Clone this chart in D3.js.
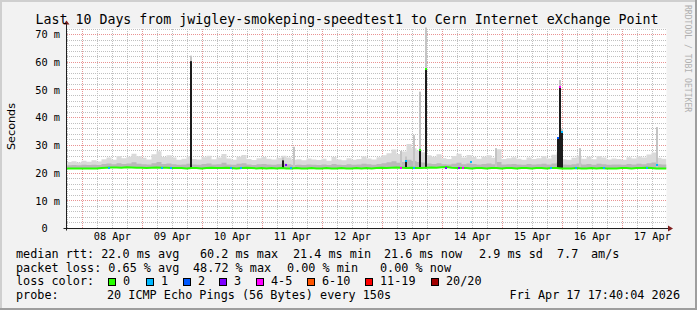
<!DOCTYPE html>
<html><head><meta charset="utf-8">
<script src="https://cdn.jsdelivr.net/npm/d3@7"></script>
<style>html,body{margin:0;padding:0;background:#f2f2f2} svg{display:block}</style>
</head><body><svg id="c" width="697" height="310"></svg>
<script>
// ---------------- data ----------------
const titleText = "Last 10 Days from jwigley-smokeping-speedtest1 to Cern Internet eXchange Point";
const startTime = "2026-04-07T17:40:00Z";
const endTime = "2026-04-17T17:40:00Z";
const stepHours = 2;
const medianRtt = [
21.7,21.7,21.7,21.7,21.7,21.7,21.7,21.8,21.9,22.0,
22.0,21.9,22.1,22.0,21.9,21.9,21.8,21.9,22.0,21.9,
21.9,21.8,21.8,21.8,21.7,21.8,21.8,21.7,21.8,21.9,
21.8,21.8,21.9,21.8,21.7,21.8,21.9,21.8,21.7,21.8,
21.7,21.8,21.7,21.8,21.7,21.7,21.8,21.7,21.7,21.8,
21.7,21.7,21.8,21.7,21.7,21.8,21.7,21.7,21.8,21.7,
21.8,21.7,21.8,21.9,21.8,21.9,22.0,21.9,21.8,21.9,
21.8,21.8,21.9,22.0,21.9,22.1,22.2,21.9,21.8,21.8,
21.8,21.7,21.8,21.8,21.7,21.8,21.8,21.7,21.8,21.8,
21.7,21.8,21.8,21.7,21.8,21.8,21.7,21.8,21.8,21.7,
21.7,21.7,21.8,21.7,21.7,21.8,21.7,21.8,21.7,21.7,
21.7,21.8,21.8,21.7,21.8,21.8,21.9,21.8,21.7,21.7];
const smokeMid = [
22.8,22.9,22.8,23.0,22.9,23.0,22.9,23.3,23.5,23.2,
23.6,23.3,23.5,23.9,23.4,23.2,23.1,23.6,24.0,23.3,
23.5,23.2,23.0,23.1,23.4,23.1,23.0,23.3,23.5,23.1,
23.2,23.7,23.1,23.0,23.4,23.6,23.1,22.9,23.2,23.3,
23.1,23.0,23.2,23.5,23.2,22.9,23.0,22.9,23.1,23.0,
22.9,23.1,22.9,23.3,23.0,22.9,23.2,23.0,23.1,23.4,
23.2,23.0,23.3,23.6,23.9,24.3,23.7,24.0,24.8,24.4,
24.0,23.8,23.5,23.3,23.6,23.2,23.1,23.4,23.7,23.2,
23.5,23.3,23.1,23.3,23.5,23.2,24.0,23.1,23.2,23.3,
23.1,23.0,23.3,23.1,23.2,23.4,23.1,23.5,23.8,23.1,
23.0,23.2,23.5,23.1,23.3,23.0,23.4,23.2,23.0,23.1,
23.1,23.0,23.3,23.1,23.4,23.2,23.6,23.8,23.2,23.1];
const smokeMax = [
24.0,24.3,23.8,24.5,24.1,24.6,24.2,25.0,25.6,24.8,
26.2,25.4,25.9,27.0,26.1,25.5,24.9,26.8,27.9,25.8,
26.4,25.6,24.8,25.2,26.0,25.1,24.9,25.7,26.3,25.0,
25.6,26.9,25.3,24.8,25.9,26.5,25.1,24.7,25.4,25.8,
25.2,24.9,25.5,26.3,25.6,24.8,25.0,24.6,25.3,24.9,
24.7,25.2,24.5,25.8,24.9,24.6,25.4,24.8,25.1,26.0,
25.3,24.9,25.7,26.4,27.2,28.5,26.9,27.8,30.5,29.0,
28.2,27.5,26.4,25.9,26.8,25.4,25.1,26.2,27.0,25.6,
26.5,25.8,25.2,25.9,26.4,25.5,28.6,25.1,25.4,25.7,
25.2,24.8,25.6,25.1,25.4,26.1,25.3,26.6,27.5,25.0,
24.8,25.5,26.3,25.2,25.9,25.0,26.2,25.6,24.9,25.3,
25.1,24.8,25.7,25.3,26.0,25.6,26.7,27.4,25.5,25.2];
// short spikes: time, top of dense (dark) smoke, top of light smoke
const spikeTimes = ["2026-04-09T19:29Z","2026-04-11T08:05Z","2026-04-11T12:44Z","2026-04-13T07:17Z","2026-04-13T09:33Z","2026-04-13T12:29Z","2026-04-13T14:53Z","2026-04-13T17:17Z","2026-04-14T21:22Z","2026-04-15T22:12Z","2026-04-15T22:52Z","2026-04-15T23:41Z","2026-04-16T07:12Z","2026-04-17T13:41Z"];
const spikeDark  = [60.4, 24.6, 0,    0,    24.5, 0,    28.3, 57.4, 0,    32.6, 51.2, 35.0, 0,    0];
const spikeLight = [62.4, 25.6, 29.5, 28.0, 26.0, 33.7, 49.4, 75.0, 29.0, 33.0, 53.6, 36.0, 29.0, 36.6];
// loss-coloured median points
const lossTimes = ["2026-04-08T10:29Z","2026-04-09T07:41Z","2026-04-09T11:17Z","2026-04-10T11:17Z","2026-04-10T15:17Z","2026-04-11T09:17Z","2026-04-11T11:17Z","2026-04-13T07:17Z","2026-04-13T09:33Z","2026-04-13T12:29Z","2026-04-13T14:53Z","2026-04-13T17:17Z","2026-04-14T01:29Z","2026-04-14T06:29Z","2026-04-14T08:05Z","2026-04-14T11:17Z","2026-04-15T19:17Z","2026-04-15T22:12Z","2026-04-15T22:52Z","2026-04-15T23:41Z","2026-04-16T05:17Z","2026-04-16T16:29Z","2026-04-17T09:58Z","2026-04-17T13:41Z"];
const lossValues = [21.8,21.8,21.9,21.8,21.8,22.9,21.8,21.7,24.5,21.9,28.3,57.4,21.7,21.7,21.7,24.1,21.7,32.6,51.2,35.0,21.7,21.8,21.7,23.0];
const lossCounts = [1,1,1,1,1,3,1,5,1,1,0,0,3,3,5,1,1,2,5,1,1,1,1,1];
const yTicks = [0,10,20,30,40,50,60,70];
const yMax = 72.2;
const lossLabels = ["0","1","2","3","4-5","6-10","11-19","20/20"];
const lossBins = [0,1,2,3,5,10,19,20];
const lossColors = ["#26ff00","#00b8ff","#0059ff","#7e00ff","#ff00ff","#ff5500","#ff0000","#a10000"];
const rttStats = ["median rtt:  22.0 ms avg","60.2 ms max","21.4 ms min","21.6 ms now","2.9 ms sd","7.7","am/s"];
const lossStats = ["packet loss: 0.65 % avg","48.72 % max","0.00 % min","0.00 % now"];
const probeText = ["probe:","20 ICMP Echo Pings (56 Bytes) every 150s"];
const dateText = "Fri Apr 17 17:40:04 2026";
const yAxisTitle = "Seconds";
const watermark = "RRDTOOL / TOBI OETIKER";

// ---------------- layout ----------------
const svg = d3.select("#c");
const W = 697, H = 310;
const L = 66.5, R = 666.5, T = 28.5, B = 228.5;
const mono = "'DejaVu Sans Mono', monospace";

svg.append("rect").attr("width",W).attr("height",H).attr("fill","#f2f2f2");
// 3D frame
svg.append("path").attr("d",`M1,${H} V1 H${W}`).attr("stroke","#cfcfcf").attr("stroke-width",2).attr("fill","none");
svg.append("path").attr("d",`M${W-1},0 V${H-1} H0`).attr("stroke","#9e9e9e").attr("stroke-width",2).attr("fill","none");
svg.append("rect").attr("x",L).attr("y",T).attr("width",R-L).attr("height",B-T).attr("fill","#fff");

const x = d3.scaleUtc().domain([new Date(startTime), new Date(endTime)]).range([L, R]);
const y = d3.scaleLinear().domain([0, yMax]).range([B, T]);

svg.append("defs").append("clipPath").attr("id","clip").append("rect")
  .attr("x",L).attr("y",T-1).attr("width",R-L).attr("height",B-T+1);

// grid (dotted, built from 1px dots)
const minorCol = "#c0c0c0", majorCol = "#e99393";
const grid = svg.append("g").attr("shape-rendering","crispEdges");
const fl = v => Math.floor(v);
function hDots(yy){ let s=""; for(let xx=fl(L)+1; xx<R; xx+=2) s+=`M${xx},${yy}h1v1h-1z`; return s; }
function vDots(xx){ let s=""; for(let yy=fl(T)+1; yy<B; yy+=2) s+=`M${xx},${yy}h1v1h-1z`; return s; }
const minorY = d3.range(0, yMax, 2).filter(v => v % 10 !== 0);
const hours6 = d3.utcHour.every(6).range(x.domain()[0], x.domain()[1]).filter(d => d.getUTCHours() !== 0);
const days = d3.utcDay.range(x.domain()[0], x.domain()[1]);
grid.selectAll("path.hy").data(minorY).join("path").attr("class","hy")
  .attr("d", d => hDots(fl(y(d)))).attr("fill",minorCol);
grid.selectAll("path.vx").data(hours6).join("path").attr("class","vx")
  .attr("d", d => vDots(fl(x(d)))).attr("fill",minorCol);
grid.selectAll("path.my").data(yTicks.filter(v=>v>0)).join("path").attr("class","my")
  .attr("d", d => hDots(fl(y(d)))).attr("fill",majorCol);
grid.selectAll("path.mx").data(days).join("path").attr("class","mx")
  .attr("d", d => vDots(fl(x(d)))).attr("fill",majorCol);

// series
const t0 = new Date(startTime);
const times = medianRtt.map((_, i) => d3.utcHour.offset(t0, i * stepHours));
const rows = times.map((t, i) => ({t, med: medianRtt[i], mid: smokeMid[i], max: smokeMax[i]}));
rows.push({t: new Date(endTime), med: medianRtt[medianRtt.length-1], mid: smokeMid[smokeMid.length-1], max: smokeMax[smokeMax.length-1]});

const plot = svg.append("g").attr("clip-path","url(#clip)");
plot.append("path").datum(rows)
  .attr("d", d3.area().curve(d3.curveStepAfter).x(d=>x(d.t)).y0(d=>y(d.med)).y1(d=>y(d.max)))
  .attr("fill","#dadada");
plot.append("path").datum(rows)
  .attr("d", d3.area().curve(d3.curveStepAfter).x(d=>x(d.t)).y0(d=>y(d.med)).y1(d=>y(d.mid)))
  .attr("fill","#b9b9b9");

const spikes = spikeTimes.map((t,i)=>({t:new Date(t), dark:spikeDark[i], light:spikeLight[i]}));
plot.selectAll("rect.sl").data(spikes).join("rect").attr("class","sl")
  .attr("x",d=>Math.round(x(d.t))-1).attr("width",2)
  .attr("y",d=>y(d.light)).attr("height",d=>y(21.7)-y(d.light))
  .attr("fill","#c4c4c4");
plot.selectAll("rect.sd").data(spikes.filter(d=>d.dark>0)).join("rect").attr("class","sd")
  .attr("x",d=>Math.round(x(d.t))-1).attr("width",2)
  .attr("y",d=>y(d.dark)).attr("height",d=>y(21.7)-y(d.dark))
  .attr("fill","#1c1c1c");

plot.append("path").datum(rows)
  .attr("d", d3.line().x(d=>x(d.t)).y(d=>y(d.med)))
  .attr("fill","none").attr("stroke",lossColors[0]).attr("stroke-width",2);

const colorFor = n => lossColors[lossBins.findIndex(b => n <= b)];
const marks = lossTimes.map((t,i)=>({t:new Date(t), v:lossValues[i], n:lossCounts[i]}));
plot.selectAll("rect.lm").data(marks).join("rect").attr("class","lm")
  .attr("x",d=>Math.round(x(d.t))-1).attr("y",d=>Math.round(y(d.v))-1)
  .attr("width",2).attr("height",2).attr("fill",d=>colorFor(d.n));

// axes
const ax = svg.append("g");
ax.append("line").attr("x1",L-3).attr("x2",R+2).attr("y1",B).attr("y2",B).attr("stroke","#1f1f1f");
ax.append("line").attr("x1",L).attr("x2",L).attr("y1",B+2).attr("y2",T-5).attr("stroke","#1f1f1f");
ax.append("path").attr("d",`M${L-3},${T-4} L${L+3},${T-4} L${L},${T-8} Z`).attr("fill","#801f1f");
ax.append("path").attr("d",`M${R+1.5},${B-3} L${R+1.5},${B+3} L${R+6.5},${B} Z`).attr("fill","#801f1f");

// y labels
svg.append("g").selectAll("text").data(yTicks).join("text")
  .attr("x", d => d === 0 ? 60 - 12.4 : 60).attr("y", d=>y(d)).attr("dy","0.36em")
  .attr("text-anchor","end").attr("font-family",mono).attr("font-size",10.3).attr("fill","#000")
  .text(d => d === 0 ? "0" : d + " m");
// x labels at noon
const noons = days.map(d => d3.utcHour.offset(d, 12)).filter(d => x(d) < R);
svg.append("g").selectAll("text").data(noons).join("text")
  .attr("x", d=>x(d)).attr("y", 240).attr("text-anchor","middle")
  .attr("font-family",mono).attr("font-size",10.3).attr("fill","#000")
  .text(d => d3.utcFormat("%d %b")(d));

// title
svg.append("text").attr("x",347).attr("y",24).attr("text-anchor","middle")
  .attr("font-family",mono).attr("font-size",13.27).attr("fill","#000").text(titleText);
// y axis title
svg.append("text").attr("transform","translate(14.5,126.5) rotate(-90)").attr("text-anchor","middle")
  .attr("font-family","'DejaVu Sans', sans-serif").attr("font-size",11.2).attr("fill","#000").text(yAxisTitle);
// watermark
svg.append("text").attr("transform","translate(685,5) rotate(90)").attr("text-anchor","start")
  .attr("font-family",mono).attr("font-size",8.1).attr("fill","#b0b0b0").text(watermark);

// legend
const lg = svg.append("g").attr("font-family",mono).attr("font-size",11.8).attr("fill","#000")
  .style("white-space","pre");
const row1x = [16,200,293,384,479,557,591];
rttStats.forEach((s,i)=> lg.append("text").attr("x",row1x[i]).attr("y",258).text(s));
const row2x = [16,193,287,380];
lossStats.forEach((s,i)=> lg.append("text").attr("x",row2x[i]).attr("y",271.5).text(s));
lg.append("text").attr("x",16).attr("y",285).text("loss color:");
const sqx = [108,146,183,219,256,307,365,431];
lossLabels.forEach((s,i)=>{
  lg.append("rect").attr("x",sqx[i]+0.5).attr("y",278.5).attr("width",7).attr("height",7)
    .attr("fill",lossColors[i]).attr("stroke","#000").attr("stroke-width",1);
  lg.append("text").attr("x",sqx[i]+15).attr("y",285).text(s);
});
lg.append("text").attr("x",16).attr("y",299).text(probeText[0]);
lg.append("text").attr("x",107).attr("y",299).text(probeText[1]);
lg.append("text").attr("x",680).attr("y",299).attr("text-anchor","end").text(dateText);
</script></body></html>
